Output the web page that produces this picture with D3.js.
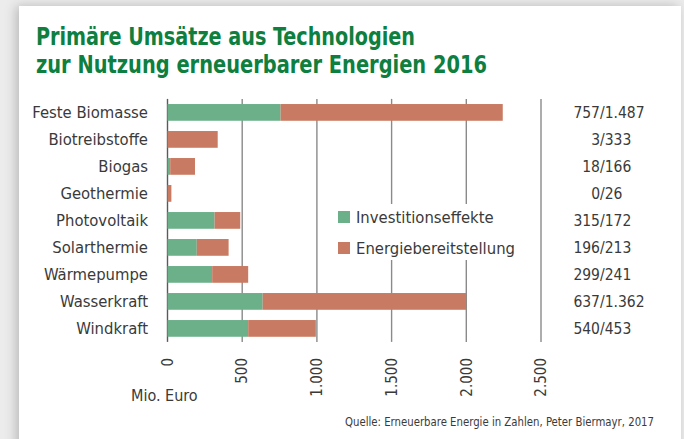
<!DOCTYPE html>
<html>
<head>
<meta charset="utf-8">
<script src="https://cdn.jsdelivr.net/npm/d3@7"></script>
<style>
  html, body { margin: 0; padding: 0; background: #ececec; }
  svg { display: block; }
</style>
</head>
<body>
<svg id="chart" width="684" height="439"></svg>
<script>
'use strict';

// Chart data (Mio. Euro)
var categories = ['Feste Biomasse', 'Biotreibstoffe', 'Biogas', 'Geothermie', 'Photovoltaik',
                  'Solarthermie', 'Wärmepumpe', 'Wasserkraft', 'Windkraft'];
var investition = [757, 3, 18, 0, 315, 196, 299, 637, 540];
var energie = [1487, 333, 166, 26, 172, 213, 241, 1362, 453];
var seriesNames = ['Investitionseffekte', 'Energiebereitstellung'];
var tickValues = [0, 500, 1000, 1500, 2000, 2500];
var titleLines = ['Primäre Umsätze aus Technologien', 'zur Nutzung erneuerbarer Energien 2016'];
var unitLabel = 'Mio. Euro';
var sourceText = 'Quelle: Erneuerbare Energie in Zahlen, Peter Biermayr, 2017';

var GREEN = '#6cb08a',
    RED = '#c97a62',
    TITLE = '#0e7f3f',
    TEXT = '#3a3a3a',
    FONT = '"DejaVu Sans Condensed", "DejaVu Sans", sans-serif';

var svg = d3.select('#chart');

// German number format: 1.487
var de = d3.formatLocale({ decimal: ',', thousands: '.', grouping: [3], currency: ['', ' €'] });
var fmt = de.format(',d');

// Card with soft shadow
var defs = svg.append('defs');
defs.append('filter')
    .attr('id', 'shadow')
    .attr('x', '-10%').attr('y', '-10%').attr('width', '120%').attr('height', '120%')
    .append('feDropShadow')
    .attr('dx', -3).attr('dy', 0).attr('stdDeviation', 6)
    .attr('flood-color', '#000').attr('flood-opacity', 0.22);

svg.append('rect')
    .attr('x', 19).attr('y', 6).attr('width', 662).attr('height', 450)
    .attr('fill', '#fff')
    .attr('filter', 'url(#shadow)');

// Title
svg.append('g').selectAll('text')
    .data(titleLines)
    .join('text')
    .attr('x', 36)
    .attr('y', function (d, i) { return 45 + i * 28; })
    .attr('fill', TITLE)
    .attr('font-family', FONT)
    .attr('font-weight', 'bold')
    .attr('font-size', 24)
    .attr('textLength', function (d, i) { return i === 0 ? 379 : 451; })
    .attr('lengthAdjust', 'spacingAndGlyphs')
    .text(function (d) { return d; });

// Scales
var x = d3.scaleLinear().domain([0, 2500]).range([167.5, 541]);
var y = d3.scaleBand().domain(categories).range([98.9, 341.9])
    .paddingInner(0.38).paddingOuter(0.19);

// Gridlines
var grid = svg.append('g');
grid.selectAll('line')
    .data(tickValues)
    .join('line')
    .attr('x1', function (d) { return x(d); })
    .attr('x2', function (d) { return x(d); })
    .attr('y1', y.range()[0])
    .attr('y2', y.range()[1])
    .attr('stroke', function (d) { return d === 0 ? '#5a5a5a' : '#8a8a8a'; })
    .attr('stroke-width', 1.4);

// Stacked bars
var rows = categories.map(function (c, i) {
    return { cat: c, inv: investition[i], en: energie[i] };
});
var stack = d3.stack().keys(['inv', 'en'])(rows);
var colors = [GREEN, RED];

svg.append('g').selectAll('g')
    .data(stack)
    .join('g')
    .attr('fill', function (d, i) { return colors[i]; })
    .selectAll('rect')
    .data(function (d) { return d; })
    .join('rect')
    .attr('x', function (d) { return x(d[0]); })
    .attr('y', function (d) { return y(d.data.cat); })
    .attr('width', function (d) { return x(d[1]) - x(d[0]); })
    .attr('height', y.bandwidth());

// Category labels
svg.append('g').selectAll('text')
    .data(categories)
    .join('text')
    .attr('x', 148)
    .attr('y', function (d) { return y(d) + y.bandwidth() / 2; })
    .attr('dy', '0.35em')
    .attr('text-anchor', 'end')
    .attr('fill', TEXT)
    .attr('font-family', FONT)
    .attr('font-size', 16.5)
    .text(function (d) { return d; });

// Value labels on the right, aligned on the slash
var slashX = 600;
var vals = svg.append('g').selectAll('g')
    .data(rows)
    .join('g')
    .attr('transform', function (d) {
        return 'translate(' + slashX + ',' + (y(d.cat) + y.bandwidth() / 2) + ')';
    })
    .attr('fill', TEXT)
    .attr('font-family', FONT)
    .attr('font-size', 15.5);

vals.append('text')
    .attr('dy', '0.35em')
    .attr('text-anchor', 'end')
    .text(function (d) { return fmt(d.inv); });

vals.append('text')
    .attr('dy', '0.35em')
    .text(function (d) { return '/' + fmt(d.en); });

// Axis tick labels, rotated
svg.append('g').selectAll('text')
    .data(tickValues)
    .join('text')
    .attr('transform', function (d) { return 'translate(' + x(d) + ',358) rotate(-90)'; })
    .attr('dy', '0.35em')
    .attr('text-anchor', 'end')
    .attr('fill', TEXT)
    .attr('font-family', FONT)
    .attr('font-size', 15)
    .text(function (d) { return fmt(d); });

svg.append('text')
    .attr('x', 131)
    .attr('y', 401)
    .attr('fill', TEXT)
    .attr('font-family', FONT)
    .attr('font-size', 16)
    .text(unitLabel);

// Legend on white background
var legend = svg.append('g').attr('transform', 'translate(334,204)');
legend.append('rect')
    .attr('width', 180).attr('height', 56)
    .attr('fill', '#fff');

var items = legend.selectAll('g')
    .data(seriesNames)
    .join('g')
    .attr('transform', function (d, i) { return 'translate(4,' + (7 + i * 31) + ')'; });

items.append('rect')
    .attr('width', 12).attr('height', 12)
    .attr('fill', function (d, i) { return colors[i]; });

items.append('text')
    .attr('x', 18)
    .attr('y', 12)
    .attr('fill', TEXT)
    .attr('font-family', FONT)
    .attr('font-size', 16.5)
    .text(function (d) { return d; });

// Source
svg.append('text')
    .attr('x', 345)
    .attr('y', 426)
    .attr('fill', TEXT)
    .attr('font-family', FONT)
    .attr('font-size', 12)
    .attr('textLength', 309)
    .attr('lengthAdjust', 'spacingAndGlyphs')
    .text(sourceText);
</script>
</body>
</html>
